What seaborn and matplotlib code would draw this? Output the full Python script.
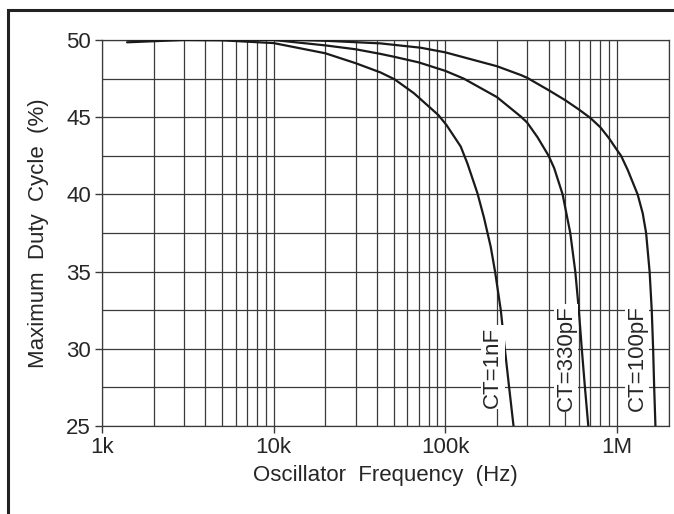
import numpy as np
import pandas as pd
import matplotlib
matplotlib.use('Agg')
import matplotlib.pyplot as plt
import seaborn as sns
from matplotlib.patches import Rectangle
from matplotlib.ticker import FixedLocator, LogLocator, NullFormatter

# Valeurs (fréquence en Hz, rapport cyclique en %)
freq_1nF = [1.4e3, 3e3, 5e3, 7.3e3, 10e3, 20e3, 30e3, 41.9e3, 50.7e3, 65.7e3, 91.1e3,
            101.5e3, 123e3, 134.6e3, 154e3, 168e3, 184e3, 195e3, 210.6e3, 222.3e3,
            235.5e3, 249.8e3]
duty_1nF = [49.85, 50.0, 49.98, 49.88, 49.8, 49.14, 48.5, 47.9, 47.45, 46.55, 45.14,
            44.5, 43.1, 42.0, 40.07, 38.5, 36.6, 35.0, 32.5, 30.0,
            27.5, 25.0]

freq_330pF = [1.4e3, 5e3, 10e3, 20e3, 30e3, 41.9e3, 50e3, 70e3, 100e3, 128e3, 200e3,
              275.5e3, 300e3, 344.7e3, 400e3, 431e3, 482.6e3, 534.7e3, 572e3, 600e3,
              624e3, 651e3, 681e3]
duty_330pF = [50.05, 50.05, 50.0, 49.65, 49.4, 49.1, 48.92, 48.55, 48.0, 47.5, 46.3,
              45.04, 44.65, 43.7, 42.5, 41.7, 40.0, 37.5, 35.0, 32.5,
              30.0, 27.5, 25.0]

freq_100pF = [1.4e3, 10e3, 20e3, 41.9e3, 71.8e3, 100e3, 200e3, 275.5e3, 300e3, 400e3,
              500e3, 600e3, 700e3, 800e3, 900e3, 1.0e6, 1.057e6, 1.156e6, 1.32e6, 1.413e6,
              1.479e6, 1.55e6, 1.595e6, 1.625e6, 1.648e6, 1.676e6]
duty_100pF = [50.05, 50.05, 49.95, 49.78, 49.5, 49.2, 48.3, 47.73, 47.55, 46.75,
              46.1, 45.5, 44.95, 44.35, 43.63, 42.88, 42.5, 41.58, 40.0, 38.78,
              37.5, 35.0, 32.5, 30.0, 27.5, 25.0]

labels = ['CT=1nF', 'CT=330pF', 'CT=100pF']
label_freq = [189e3, 505e3, 1.31e6]
label_duty = [28.8, 29.4, 29.4]

x_ticks = [1e3, 1e4, 1e5, 1e6]
x_tick_labels = ['1k', '10k', '100k', '1M']
y_ticks = [25, 30, 35, 40, 45, 50]

df = pd.concat([
    pd.DataFrame({'freq': freq_1nF, 'duty': duty_1nF, 'ct': labels[0]}),
    pd.DataFrame({'freq': freq_330pF, 'duty': duty_330pF, 'ct': labels[1]}),
    pd.DataFrame({'freq': freq_100pF, 'duty': duty_100pF, 'ct': labels[2]}),
])

sns.set_theme(style='white')
plt.rcParams['font.family'] = ['Liberation Sans', 'DejaVu Sans']

fig = plt.figure(figsize=(6.74, 5.14), dpi=100)
ax = fig.add_axes([0.1513, 0.1712, 0.8407, 0.751])

sns.lineplot(data=df, x='freq', y='duty', hue='ct', palette=['#1a1a1a'] * 3,
             linewidth=1.6, legend=False, ax=ax, zorder=3)

ax.set_xscale('log')
ax.set_xlim(1e3, 2e6)
ax.set_ylim(25, 50)

ax.xaxis.set_major_locator(FixedLocator(x_ticks))
ax.set_xticklabels(x_tick_labels)
ax.xaxis.set_minor_locator(LogLocator(base=10, subs=np.arange(2, 10)))
ax.xaxis.set_minor_formatter(NullFormatter())
ax.yaxis.set_major_locator(FixedLocator(y_ticks))
ax.yaxis.set_minor_locator(FixedLocator([27.5, 32.5, 37.5, 42.5, 47.5]))

ax.grid(which='both', color='#3a3a3a', linewidth=0.9)
ax.tick_params(axis='both', which='major', labelsize=16, length=5, width=1,
               color='#3a3a3a', direction='out', pad=3, bottom=True, left=True)
ax.tick_params(axis='both', which='minor', length=0)
for s in ax.spines.values():
    s.set_color('#3a3a3a')
    s.set_linewidth(0.9)

ax.set_xlabel('Oscillator  Frequency  (Hz)', fontsize=16, labelpad=5)
ax.set_ylabel('Maximum  Duty  Cycle  (%)', fontsize=16, labelpad=12)

for lab, fx, dy in zip(labels, label_freq, label_duty):
    ax.text(fx, dy, lab, rotation=90, fontsize=16, ha='center', va='center', zorder=4,
            bbox=dict(facecolor='white', edgecolor='none', pad=1.0))

# cadre extérieur
fig.patches.append(Rectangle((8 / 674, -0.2), 1.2, 1.2 - 10 / 514, transform=fig.transFigure,
                             fill=False, edgecolor='#222222', linewidth=2.2))

fig.savefig('out.png', dpi=100)
plt.close()
